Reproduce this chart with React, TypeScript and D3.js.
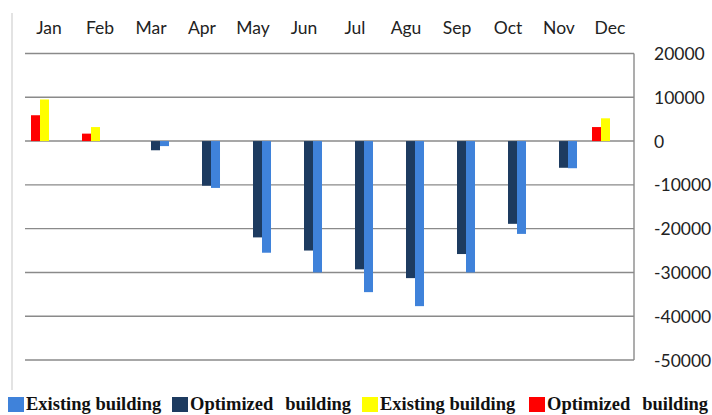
import React from "react";
import * as d3 from "d3";

const months = ["Jan", "Feb", "Mar", "Apr", "May", "Jun", "Jul", "Agu", "Sep", "Oct", "Nov", "Dec"];
const optimizedHeating = [5900, 1700, 0, 0, 0, 0, 0, 0, 0, 0, 0, 3200];
const existingHeating = [9500, 3200, 0, 0, 0, 0, 0, 0, 0, 0, 0, 5200];
const optimizedCooling = [0, 0, -2100, -10200, -22000, -25000, -29300, -31300, -25800, -18900, -6100, 0];
const existingCooling = [0, 0, -1150, -10700, -25500, -30000, -34500, -37700, -30000, -21200, -6200, 0];
const yTicks = [20000, 10000, 0, -10000, -20000, -30000, -40000, -50000];

const seriesOrder = [
  { key: "optHeat", values: optimizedHeating, color: "#ff0000" },
  { key: "exHeat", values: existingHeating, color: "#ffff00" },
  { key: "optCool", values: optimizedCooling, color: "#1d3b60" },
  { key: "exCool", values: existingCooling, color: "#3f82da" },
];

const legendItems = [
  { color: "#3f82da", first: "Existing building", second: null as string | null, sx: 8, tx: 26 },
  { color: "#1d3b60", first: "Optimized", second: "building", sx: 172, tx: 190 },
  { color: "#ffff00", first: "Existing building", second: null as string | null, sx: 362, tx: 380 },
  { color: "#ff0000", first: "Optimized", second: "building", sx: 529, tx: 547 },
];

export default function App() {
  const W = 712;
  const H = 415;
  const plotLeft = 25;
  const plotRight = 634;
  const x = d3.scaleBand<string>().domain(months).range([23.5, 635.5]).padding(0);
  const bw = x.bandwidth();
  const sub = d3
    .scaleBand<string>()
    .domain(seriesOrder.map((s) => s.key))
    .range([bw * 0.147, bw * 0.853])
    .padding(0);
  const y = d3.scaleLinear().domain([-50000, 20000]).range([360, 53.5]);
  const labelFont = "Lato, 'Open Sans', sans-serif";
  const legendFont = "'Liberation Serif', 'Times New Roman', serif";

  return (
    <svg width={W} height={H} style={{ position: "absolute", left: 0, top: 0, background: "#fff" }}>
      <rect x={0} y={0} width={W} height={H} fill="#fff" />
      <line x1={12} x2={12} y1={13} y2={390} stroke="#d0d0d0" strokeWidth={1.2} />
      {yTicks.map((t) => (
        <line key={"g" + t} x1={plotLeft} x2={plotRight} y1={y(t)} y2={y(t)} stroke="#8a8a8a" strokeWidth={1.4} />
      ))}
      <line x1={plotRight} x2={plotRight} y1={y(20000)} y2={y(-50000)} stroke="#8a8a8a" strokeWidth={1.4} />
      {seriesOrder.map((s) =>
        s.values.map((v, i) =>
          v === 0 ? null : (
            <rect
              key={s.key + i}
              x={(x(months[i]) as number) + (sub(s.key) as number)}
              width={sub.bandwidth()}
              y={Math.min(y(v), y(0))}
              height={Math.abs(y(v) - y(0))}
              fill={s.color}
            />
          )
        )
      )}
      {months.map((m) => (
        <text
          key={m}
          x={(x(m) as number) + bw / 2}
          y={33.5}
          textAnchor="middle"
          fontFamily={labelFont}
          fontSize={17.5}
          fill="#222"
        >
          {m}
        </text>
      ))}
      {yTicks.map((t) => (
        <text key={"t" + t} x={654} y={y(t) + 6.5} fontFamily={labelFont} fontSize={17.5} fill="#222">
          {t}
        </text>
      ))}
      {legendItems.map((l, i) => (
        <g key={"l" + i}>
          <rect x={l.sx} y={397} width={16} height={15} fill={l.color} />
          <text x={l.tx} y={409.5} fontFamily={legendFont} fontWeight="bold" fontSize={18.5} fill="#111">
            {l.first}
            {l.second ? <tspan dx={12}>{l.second}</tspan> : null}
          </text>
        </g>
      ))}
    </svg>
  );
}
